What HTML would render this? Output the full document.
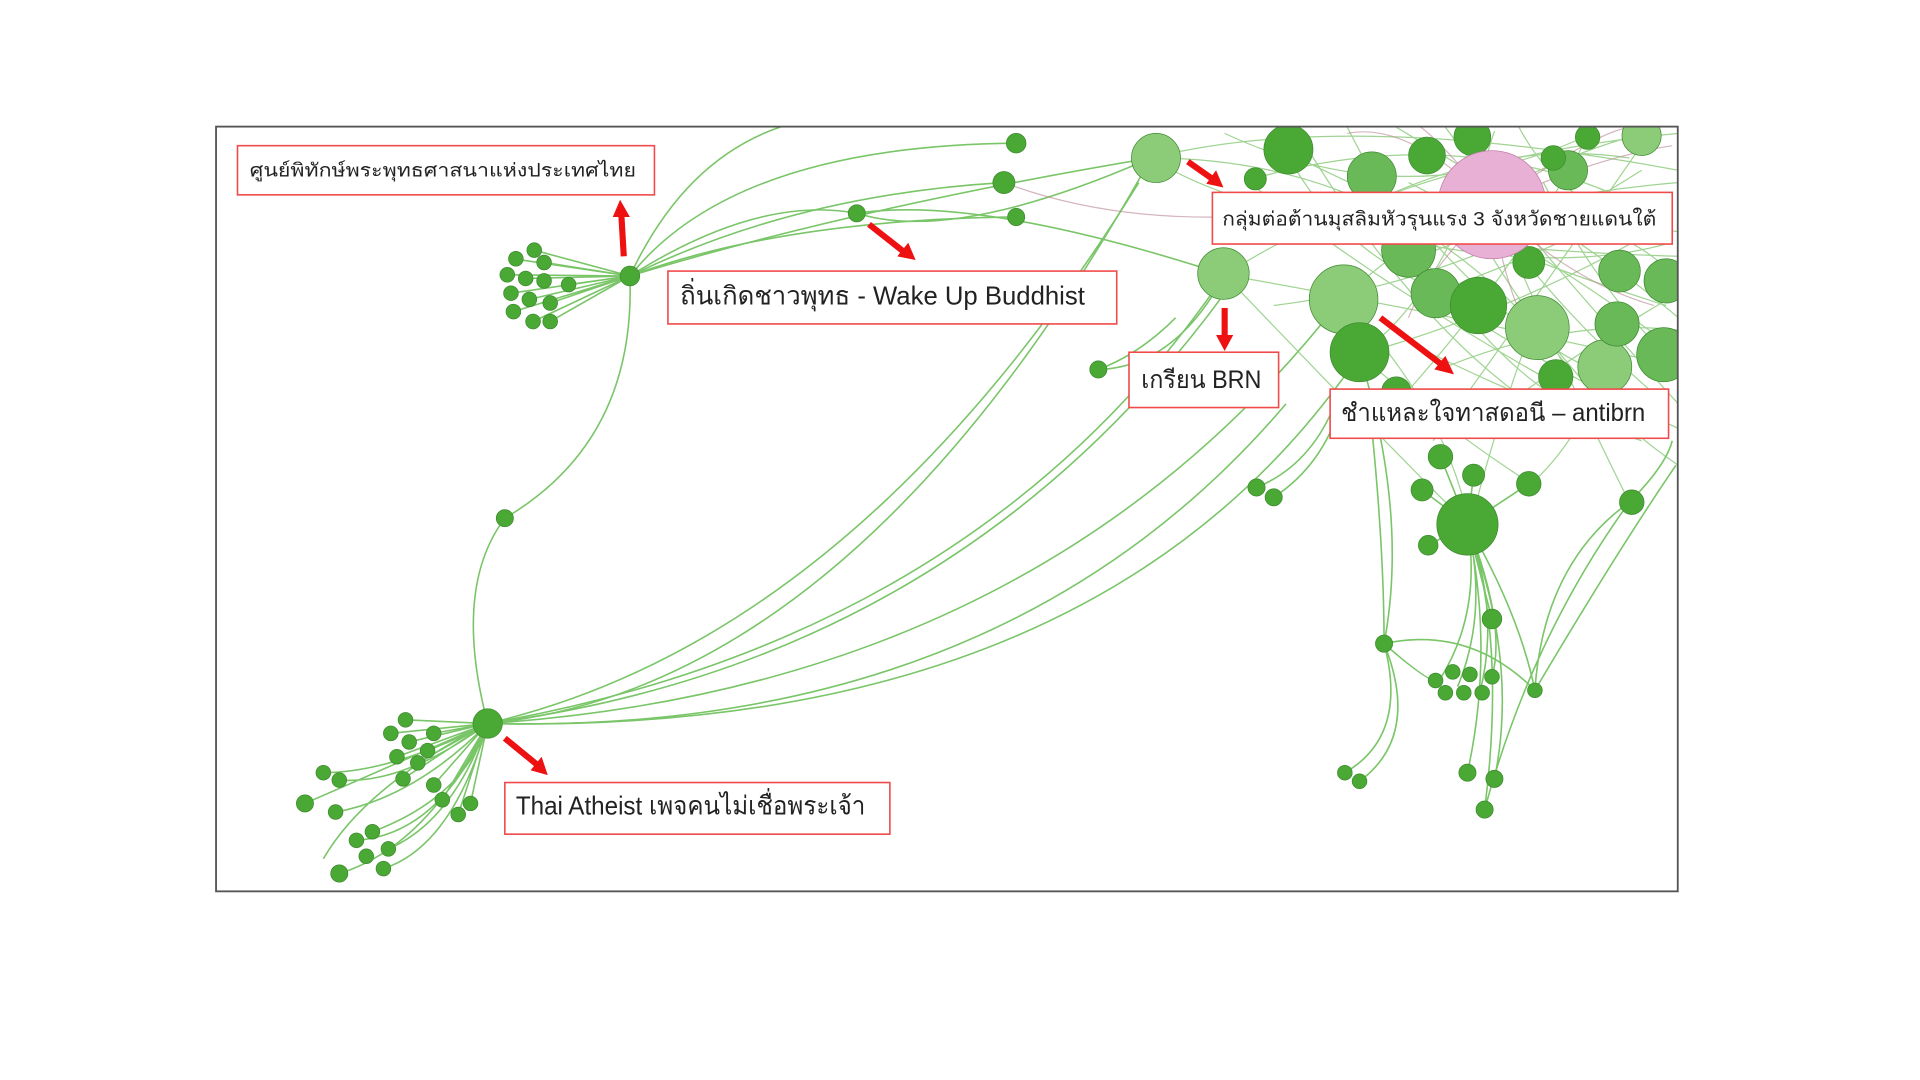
<!DOCTYPE html>
<html><head><meta charset="utf-8"><style>
html,body{margin:0;padding:0;background:#fff;}
svg{display:block;}
text{font-family:"Liberation Sans","DejaVu Sans",sans-serif;fill:#222;}
</style></head><body>
<svg width="1920" height="1080" viewBox="0 0 1546 870" preserveAspectRatio="none" xmlns="http://www.w3.org/2000/svg">
<defs><clipPath id="c"><rect x="178" y="105" width="1191" height="621"/></clipPath></defs>
<rect x="0" y="0" width="1546" height="870" fill="#fff"/>
<g transform="matrix(0.9874,0,0,0.9904,-1.3,-1.5)">
<g clip-path="url(#c)" fill="none" stroke="#6bbf58" stroke-width="1.3" opacity="0.9">
<path d="M515,226 Q560,130 640,104"/>
<path d="M515,226 Q600,120 830,118"/>
<path d="M515,226 Q650,160 820,150"/>
<path d="M515,226 Q700,170 940,130"/>
<path d="M515,226 Q640,180 830,178"/>
<path d="M515,226 Q620,160 700,175"/>
<path d="M700,175 Q780,200 940,130"/>
<path d="M700,175 Q800,160 1000,225"/>
<path d="M515,226 Q520,360 413,423"/>
<path d="M413,423 Q370,480 399,590"/>
<path d="M515,226 L465,233 M515,226 L445,215 M515,226 L437,205 M515,226 L420,212 M515,226 L415,225 M515,226 L430,228 M515,226 L418,240 M515,226 L433,245 M515,226 L420,255 M515,226 L436,263 M515,226 L450,263 M515,226 L450,248"/>
<path d="M399,590 Q700,560 940,130"/>
<path d="M399,590 Q800,520 1000,225"/>
<path d="M399,590 Q850,560 1095,245"/>
<path d="M399,590 Q900,600 1110,290"/>
<path d="M399,590 Q780,540 1000,240"/>
<path d="M399,590 Q700,520 930,150"/>
<path d="M399,590 Q820,600 1050,330"/>
<path d="M399,590 Q330,620 250,655 M399,590 Q320,630 265,630 M399,590 Q330,640 278,636 M399,590 Q340,650 275,662 M399,590 Q350,690 278,712 M399,590 Q360,680 292,685 M399,590 Q370,690 314,708 M399,590 Q370,670 318,692 M399,590 Q380,650 305,678 M399,590 L332,587 M399,590 L320,598 M399,590 L355,598 M399,590 L335,605 M399,590 L325,617 M399,590 L342,622 M399,590 L330,635 M399,590 L355,640 M399,590 L362,652 M399,590 L375,664 M399,590 L385,655 M399,590 L350,612"/>
<path d="M399,590 Q300,640 265,700"/>
<g stroke="#7cc46a" stroke-width="1" opacity="0.8">
<path d="M940,130 Q1100,90 1370,140 M940,130 Q1050,200 1370,210 M1000,225 Q1150,130 1370,110 M1000,225 Q1200,260 1370,300 M1050,125 Q1200,200 1360,250 M1095,245 Q1200,150 1340,110 M1110,290 Q1250,250 1365,180 M1170,240 Q1260,300 1370,350 M1020,150 Q1150,250 1300,330 M1200,120 Q1250,250 1330,410 M1110,290 Q1180,350 1250,395 M1095,245 Q1180,330 1200,430 M1000,225 Q1100,330 1200,430 M1250,270 Q1220,350 1200,430 M1320,265 Q1300,350 1250,395 M940,130 Q1150,130 1280,300 M1050,125 Q1100,220 1210,250 M1150,150 Q1250,200 1360,280 M1260,150 Q1300,230 1355,285 M1220,108 Q1180,240 1110,290"/>
<path d="M1000,110 Q1150,180 1300,110 M1030,145 Q1200,100 1340,170 M1080,180 Q1250,230 1360,200 M1120,140 Q1250,300 1330,310 M1170,240 Q1280,200 1350,160 M1250,220 Q1300,280 1360,330 M1150,280 Q1250,330 1340,360 M1200,180 Q1280,320 1370,380 M1160,210 Q1300,150 1370,230"/>
<path d="M1060,110 Q1150,260 1250,330 M1100,105 Q1200,300 1300,340 M1140,105 Q1300,200 1370,260 M1180,105 Q1250,200 1370,330 M1240,105 Q1280,180 1370,190 M1300,105 Q1240,220 1140,330 M1350,105 Q1250,250 1170,360 M1060,200 Q1200,110 1330,130 M1040,250 Q1200,230 1340,140 M1120,200 Q1250,160 1370,150 M1180,300 Q1280,260 1370,270 M1230,330 Q1300,280 1370,240"/>
</g>
<g stroke="#b07a86" stroke-width="1" opacity="0.6">
<path d="M820,150 Q900,180 1000,178 M1000,178 Q1100,170 1218,168 M1218,168 Q1300,130 1365,120 M1218,168 Q1280,230 1350,250 M1218,168 Q1150,100 1100,110 M1218,168 Q1290,160 1360,160 M1218,168 Q1230,250 1260,290 M1218,168 Q1160,230 1150,260 M1218,168 Q1300,110 1330,105 M1218,168 Q1180,120 1160,105"/>
</g>
<path d="M1198,428 Q1230,520 1212,660 M1198,428 Q1220,530 1198,630 M1198,428 Q1240,540 1220,635 M1198,428 Q1210,500 1175,555 M1198,428 Q1215,500 1190,560 M1198,428 Q1225,500 1208,565 M1198,428 Q1230,510 1218,552 M1198,428 Q1240,500 1253,563 M1198,428 L1218,505 M1198,428 L1166,445 M1198,428 L1161,400 M1198,428 L1176,373 M1198,428 L1203,388 M1198,428 L1248,395"/>
<path d="M1130,525 Q1150,600 1098,630 M1130,525 Q1160,600 1110,637 M1130,525 Q1170,560 1175,555 M1130,525 Q1150,420 1110,290 M1130,525 Q1130,450 1120,350 M1130,525 Q1200,510 1253,563"/>
<path d="M1026,398 Q1070,380 1090,330 M1040,406 Q1080,380 1095,330"/>
<path d="M1253,563 Q1260,460 1330,410 M1212,660 Q1250,520 1330,410 M1330,410 Q1360,380 1365,360 M1253,563 Q1320,450 1368,380"/>
<path d="M897,302 Q960,300 1000,225 M897,302 Q930,290 960,260"/>
</g>
<g clip-path="url(#c)" stroke="#3e8a30" stroke-width="0.6">
<g fill="#8ccc78">
<circle cx="944" cy="130" r="20"/><circle cx="999" cy="224" r="21"/><circle cx="1097" cy="245" r="28"/><circle cx="1255" cy="268" r="26"/><circle cx="1340" cy="112" r="16"/><circle cx="1310" cy="300" r="22"/>
</g>
<g fill="#6ab958">
<circle cx="1120" cy="145" r="20"/><circle cx="1150" cy="205" r="22"/><circle cx="1172" cy="240" r="20"/><circle cx="1322" cy="222" r="17"/><circle cx="1320" cy="265" r="18"/><circle cx="1360" cy="230" r="18"/><circle cx="1358" cy="290" r="22"/><circle cx="1280" cy="140" r="16"/><circle cx="1090" cy="175" r="16"/>
</g>
<g fill="#4aa935">
<circle cx="1052" cy="123" r="20"/><circle cx="1110" cy="288" r="24"/><circle cx="1207" cy="250" r="23"/><circle cx="1165" cy="128" r="15"/><circle cx="1202" cy="113" r="15"/><circle cx="1248" cy="215" r="13"/><circle cx="1268" cy="130" r="10"/><circle cx="1296" cy="113" r="10"/><circle cx="1025" cy="147" r="9"/><circle cx="1270" cy="308" r="14"/><circle cx="1140" cy="320" r="12"/>
<circle cx="1198" cy="428" r="25"/><circle cx="1176" cy="373" r="10"/><circle cx="1161" cy="400" r="9"/><circle cx="1203" cy="388" r="9"/><circle cx="1248" cy="395" r="10"/><circle cx="1166" cy="445" r="8"/><circle cx="1332" cy="410" r="10"/>
<circle cx="1218" cy="505" r="8"/><circle cx="1130" cy="525" r="7"/><circle cx="1172" cy="555" r="6"/><circle cx="1186" cy="548" r="6"/><circle cx="1200" cy="550" r="6"/><circle cx="1218" cy="552" r="6"/><circle cx="1180" cy="565" r="6"/><circle cx="1195" cy="565" r="6"/><circle cx="1210" cy="565" r="6"/><circle cx="1253" cy="563" r="6"/>
<circle cx="1098" cy="630" r="6"/><circle cx="1110" cy="637" r="6"/><circle cx="1198" cy="630" r="7"/><circle cx="1220" cy="635" r="7"/><circle cx="1212" cy="660" r="7"/>
<circle cx="1026" cy="398" r="7"/><circle cx="1040" cy="406" r="7"/><circle cx="897" cy="302" r="7"/>
<circle cx="830" cy="118" r="8"/><circle cx="820" cy="150" r="9"/><circle cx="830" cy="178" r="7"/><circle cx="700" cy="175" r="7"/>
<circle cx="515" cy="226" r="8"/><circle cx="465" cy="233" r="6"/><circle cx="445" cy="215" r="6"/><circle cx="437" cy="205" r="6"/><circle cx="422" cy="212" r="6"/><circle cx="415" cy="225" r="6"/><circle cx="430" cy="228" r="6"/><circle cx="418" cy="240" r="6"/><circle cx="433" cy="245" r="6"/><circle cx="420" cy="255" r="6"/><circle cx="436" cy="263" r="6"/><circle cx="450" cy="263" r="6"/><circle cx="450" cy="248" r="6"/><circle cx="445" cy="230" r="6"/>
<circle cx="413" cy="423" r="7"/>
<circle cx="399" cy="590" r="12"/><circle cx="332" cy="587" r="6"/><circle cx="320" cy="598" r="6"/><circle cx="355" cy="598" r="6"/><circle cx="335" cy="605" r="6"/><circle cx="325" cy="617" r="6"/><circle cx="342" cy="622" r="6"/><circle cx="330" cy="635" r="6"/><circle cx="355" cy="640" r="6"/><circle cx="362" cy="652" r="6"/><circle cx="375" cy="664" r="6"/><circle cx="385" cy="655" r="6"/><circle cx="350" cy="612" r="6"/>
<circle cx="250" cy="655" r="7"/><circle cx="265" cy="630" r="6"/><circle cx="278" cy="636" r="6"/><circle cx="275" cy="662" r="6"/><circle cx="292" cy="685" r="6"/><circle cx="305" cy="678" r="6"/><circle cx="318" cy="692" r="6"/><circle cx="314" cy="708" r="6"/><circle cx="278" cy="712" r="7"/><circle cx="300" cy="698" r="6"/>
</g>
<circle cx="1218" cy="168" r="44" fill="#e8b0d4" stroke="#c080a8"/>
</g>
<rect x="177.5" y="104.5" width="1192" height="622" fill="none" stroke="#555" stroke-width="1.5"/>
<g stroke="#ee1111" stroke-width="5" fill="#ee1111">
<line x1="510" y1="210" x2="508" y2="176"/><polygon points="501,178 515,178 507,164" stroke="none"/>
<line x1="710" y1="184" x2="738" y2="206"/><polygon points="733,210 742,199 748,213" stroke="none"/>
<line x1="970" y1="133" x2="990" y2="147"/><polygon points="985,151 993,140 999,154" stroke="none"/>
<line x1="1000" y1="252" x2="1000" y2="276"/><polygon points="993,274 1007,274 1000,287" stroke="none"/>
<line x1="1127" y1="260" x2="1177" y2="298"/><polygon points="1171,302 1180,291 1187,306" stroke="none"/>
<line x1="413" y1="602" x2="440" y2="624"/><polygon points="434,628 443,617 448,632" stroke="none"/>
</g>
<g fill="#fff" stroke="#f04a4a" stroke-width="1.3">
<rect x="195" y="120" width="340" height="40"/>
<rect x="546" y="222" width="366" height="43"/>
<rect x="990" y="158" width="375" height="42"/>
<rect x="922" y="288" width="122" height="45"/>
<rect x="1086" y="318" width="276" height="40"/>
<rect x="413" y="638" width="314" height="42"/>
</g>
<text x="205" y="145" font-size="15" textLength="315" lengthAdjust="spacingAndGlyphs">ศูนย์พิทักษ์พระพุทธศาสนาแห่งประเทศไทย</text>
<text x="556" y="249" font-size="21" textLength="330" lengthAdjust="spacingAndGlyphs">ถิ่นเกิดชาวพุทธ - Wake Up Buddhist</text>
<text x="998" y="185" font-size="16" textLength="354" lengthAdjust="spacingAndGlyphs">กลุ่มต่อต้านมุสลิมหัวรุนแรง 3 จังหวัดชายแดนใต้</text>
<text x="932" y="317" font-size="20" textLength="98" lengthAdjust="spacingAndGlyphs">เกรียน BRN</text>
<text x="1095" y="344" font-size="20" textLength="248" lengthAdjust="spacingAndGlyphs">ชำแหละใจทาสดอนี – antibrn</text>
<text x="422" y="664" font-size="21" textLength="285" lengthAdjust="spacingAndGlyphs">Thai Atheist เพจคนไม่เชื่อพระเจ้า</text>
</g>
</svg>
</body></html>
